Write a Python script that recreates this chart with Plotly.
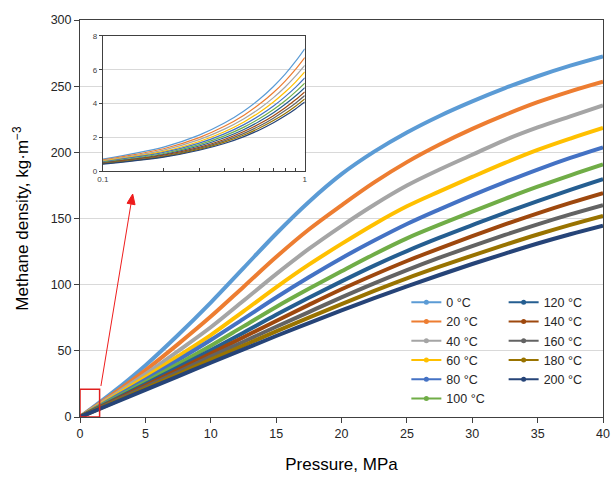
import plotly.graph_objects as go

# ---------------- data ----------------
temps = ["0 °C", "20 °C", "40 °C", "60 °C", "80 °C", "100 °C",
         "120 °C", "140 °C", "160 °C", "180 °C", "200 °C"]
colors = ["#5B9BD5", "#ED7D31", "#A5A5A5", "#FFC000", "#4472C4", "#70AD47",
          "#255E91", "#9E480E", "#636363", "#997300", "#264478"]

pressure = [0, 2.5, 5, 7.5, 10, 12.5, 15, 17.5, 20, 22.5, 25, 27.5, 30, 32.5, 35, 37.5, 40]

rho_0C   = [0, 18.6, 39.0, 62.0, 86.5, 112.5, 138.5, 162.5, 183.5, 200.5, 215.0, 227.5, 238.5, 248.5, 257.5, 265.5, 272.5]
rho_20C  = [0, 17.1, 35.3, 55.1, 75.9, 98.3, 120.9, 141.7, 160.0, 177.3, 192.6, 205.9, 217.7, 228.3, 237.9, 246.1, 253.4]
rho_40C  = [0, 15.9, 32.3, 49.8, 67.8, 87.8, 108.0, 127.0, 144.3, 160.4, 174.9, 187.0, 198.2, 209.3, 218.8, 227.2, 235.4]
rho_60C  = [0, 14.9, 30.0, 45.9, 61.9, 79.8, 98.0, 115.1, 130.8, 145.7, 159.2, 170.5, 181.4, 192.0, 201.8, 210.4, 218.4]
rho_80C  = [0, 14.0, 28.2, 43.0, 58.2, 74.2, 90.3, 105.6, 120.0, 133.3, 145.8, 156.9, 167.5, 177.5, 187.0, 195.8, 203.8]
rho_100C = [0, 13.2, 26.5, 40.0, 53.8, 68.5, 83.2, 96.9, 110.1, 123.0, 135.0, 145.3, 155.2, 164.8, 174.0, 182.6, 190.8]
rho_120C = [0, 12.4, 25.0, 37.6, 50.4, 63.7, 77.2, 90.1, 102.5, 114.4, 125.4, 135.5, 145.0, 154.3, 163.2, 171.7, 179.8]
rho_140C = [0, 11.8, 23.7, 35.7, 47.9, 60.3, 72.6, 84.7, 96.5, 107.5, 117.9, 127.5, 136.7, 145.5, 153.9, 161.8, 169.2]
rho_160C = [0, 11.2, 22.6, 34.0, 45.6, 56.9, 68.2, 79.3, 90.4, 101.0, 111.0, 120.4, 129.2, 137.6, 145.6, 153.1, 160.1]
rho_180C = [0, 10.7, 21.5, 32.3, 43.3, 54.0, 64.7, 75.1, 85.3, 95.3, 104.8, 113.6, 122.0, 130.1, 137.9, 145.2, 152.0]
rho_200C = [0, 10.2, 20.5, 30.7, 41.0, 51.1, 61.2, 70.9, 80.5, 89.8, 98.7, 107.3, 115.6, 123.5, 131.1, 138.1, 144.6]

main_series = [rho_0C, rho_20C, rho_40C, rho_60C, rho_80C, rho_100C,
               rho_120C, rho_140C, rho_160C, rho_180C, rho_200C]

# inset (low pressure, log x)
pressure_low = [0.1, 0.2, 0.3, 0.4, 0.5, 0.6, 0.7, 0.8, 0.9, 1.0]
low_0C   = [0.71, 1.42, 2.13, 2.84, 3.56, 4.28, 5.01, 5.74, 6.49, 7.24]
low_20C  = [0.66, 1.32, 1.98, 2.65, 3.31, 3.98, 4.65, 5.33, 6.02, 6.72]
low_40C  = [0.62, 1.24, 1.86, 2.48, 3.10, 3.72, 4.35, 4.98, 5.62, 6.26]
low_60C  = [0.58, 1.16, 1.75, 2.33, 2.91, 3.50, 4.09, 4.68, 5.27, 5.87]
low_80C  = [0.55, 1.10, 1.65, 2.20, 2.75, 3.30, 3.85, 4.41, 4.96, 5.52]
low_100C = [0.52, 1.04, 1.56, 2.08, 2.60, 3.12, 3.64, 4.16, 4.69, 5.21]
low_120C = [0.49, 0.98, 1.48, 1.97, 2.46, 2.96, 3.45, 3.95, 4.44, 4.94]
low_140C = [0.47, 0.94, 1.40, 1.87, 2.34, 2.81, 3.28, 3.75, 4.22, 4.69]
low_160C = [0.45, 0.89, 1.34, 1.79, 2.23, 2.68, 3.13, 3.58, 4.02, 4.47]
low_180C = [0.43, 0.85, 1.28, 1.71, 2.13, 2.56, 2.99, 3.41, 3.84, 4.27]
low_200C = [0.41, 0.82, 1.23, 1.63, 2.04, 2.45, 2.86, 3.27, 3.68, 4.09]

low_series = [low_0C, low_20C, low_40C, low_60C, low_80C, low_100C,
              low_120C, low_140C, low_160C, low_180C, low_200C]

inset_major_ticks = [0.1, 1.0]
inset_minor_ticks = [0.2, 0.3, 0.4, 0.5, 0.6, 0.7, 0.8, 0.9]

# zoom-box marker (data coordinates of the magnified region)
zoom_box_p = [0, 1.5]
zoom_box_rho = [0, 21]

FONT = "Arial, Liberation Sans, sans-serif"
AX = "#404040"
RED = "#EE1C1C"

fig = go.Figure()

# main curves
for name, c, ys in zip(temps, colors, main_series):
    fig.add_trace(go.Scatter(x=pressure, y=ys, mode="lines", name=name,
                             line=dict(color=c, width=4, shape="spline"),
                             showlegend=False, hoverinfo="skip"))

# inset curves
for name, c, ys in zip(temps, colors, low_series):
    fig.add_trace(go.Scatter(x=pressure_low, y=ys, mode="lines", name=name,
                             line=dict(color=c, width=1.2, shape="spline"),
                             xaxis="x2", yaxis="y2", showlegend=False, hoverinfo="skip"))

# legend entries (two columns)
for i, (name, c) in enumerate(zip(temps, colors)):
    fig.add_trace(go.Scatter(x=[None], y=[None], mode="lines+markers", name=name,
                             line=dict(color=c, width=2), marker=dict(color=c, size=5),
                             legend="legend" if i < 6 else "legend2"))

legend_common = dict(xanchor="left", yanchor="top", bgcolor="rgba(0,0,0,0)",
                     font=dict(family=FONT, size=12.5, color="#262626"),
                     traceorder="normal", itemwidth=30, borderwidth=0)

# arrow from zoom box to inset (line + triangular head)
arrow_line = dict(type="line", xref="x", yref="y", x0=1.6, y0=23.4, x1=3.9, y1=161.1,
                  line=dict(color=RED, width=1), layer="above")
arrow_head = dict(type="path", xref="x", yref="y",
                  path="M 4.03 168.5 L 4.21 160.4 L 3.60 161.5 Z",
                  fillcolor=RED, line=dict(color=RED, width=1), layer="above")

fig.update_layout(
    width=612, height=478,
    margin=dict(l=80, r=6, t=20, b=61),
    paper_bgcolor="white", plot_bgcolor="white",
    font=dict(family=FONT, color="#262626"),
    xaxis=dict(range=[0, 40], tick0=0, dtick=5, ticks="outside", ticklen=5,
               tickcolor=AX, showline=True, linecolor=AX, linewidth=1, mirror=True,
               showgrid=False, zeroline=False, domain=[0, 1], anchor="y", automargin=False,
               tickfont=dict(size=12.5, color="#262626"),
               title=dict(text="Pressure, MPa", font=dict(size=17, color="#000"), standoff=18)),
    yaxis=dict(range=[0, 300], tick0=0, dtick=50, ticks="outside", ticklen=5,
               tickcolor=AX, showline=True, linecolor=AX, linewidth=1, mirror=True,
               showgrid=True, gridcolor="#D9D9D9", zeroline=False, domain=[0, 1], anchor="x",
               automargin=False,
               tickfont=dict(size=12.5, color="#262626"),
               title=dict(text="Methane density, kg·m<sup>−3</sup>", font=dict(size=17, color="#000"), standoff=17)),
    xaxis2=dict(type="log", range=[-1, 0], domain=[0.0437, 0.4297], anchor="y2",
                tickvals=inset_major_ticks, ticktext=["0.1", "1"], ticks="inside", ticklen=3,
                minor=dict(tickvals=inset_minor_ticks, ticks="inside", ticklen=3, tickcolor=AX, showgrid=False),
                tickcolor=AX, showline=True, linecolor=AX, linewidth=1, mirror=True,
                showgrid=False, zeroline=False, tickfont=dict(size=8, color="#404040")),
    yaxis2=dict(range=[0, 8], tick0=0, dtick=2, domain=[0.6196, 0.9597], anchor="x2",
                ticks="outside", ticklen=3, tickcolor=AX, showline=True, linecolor=AX,
                linewidth=1, mirror=True, showgrid=True, gridcolor="#D9D9D9", zeroline=False,
                tickfont=dict(size=8, color="#404040")),
    legend=dict(x=0.624, y=0.326, **legend_common),
    legend2=dict(x=0.81, y=0.326, **legend_common),
    shapes=[dict(type="rect", xref="x", yref="y", x0=zoom_box_p[0], x1=zoom_box_p[1],
                 y0=zoom_box_rho[0], y1=zoom_box_rho[1],
                 line=dict(color="#E0201F", width=1.5), fillcolor="rgba(0,0,0,0)", layer="above"),
            arrow_line, arrow_head],
)

fig.write_html("out.html")
